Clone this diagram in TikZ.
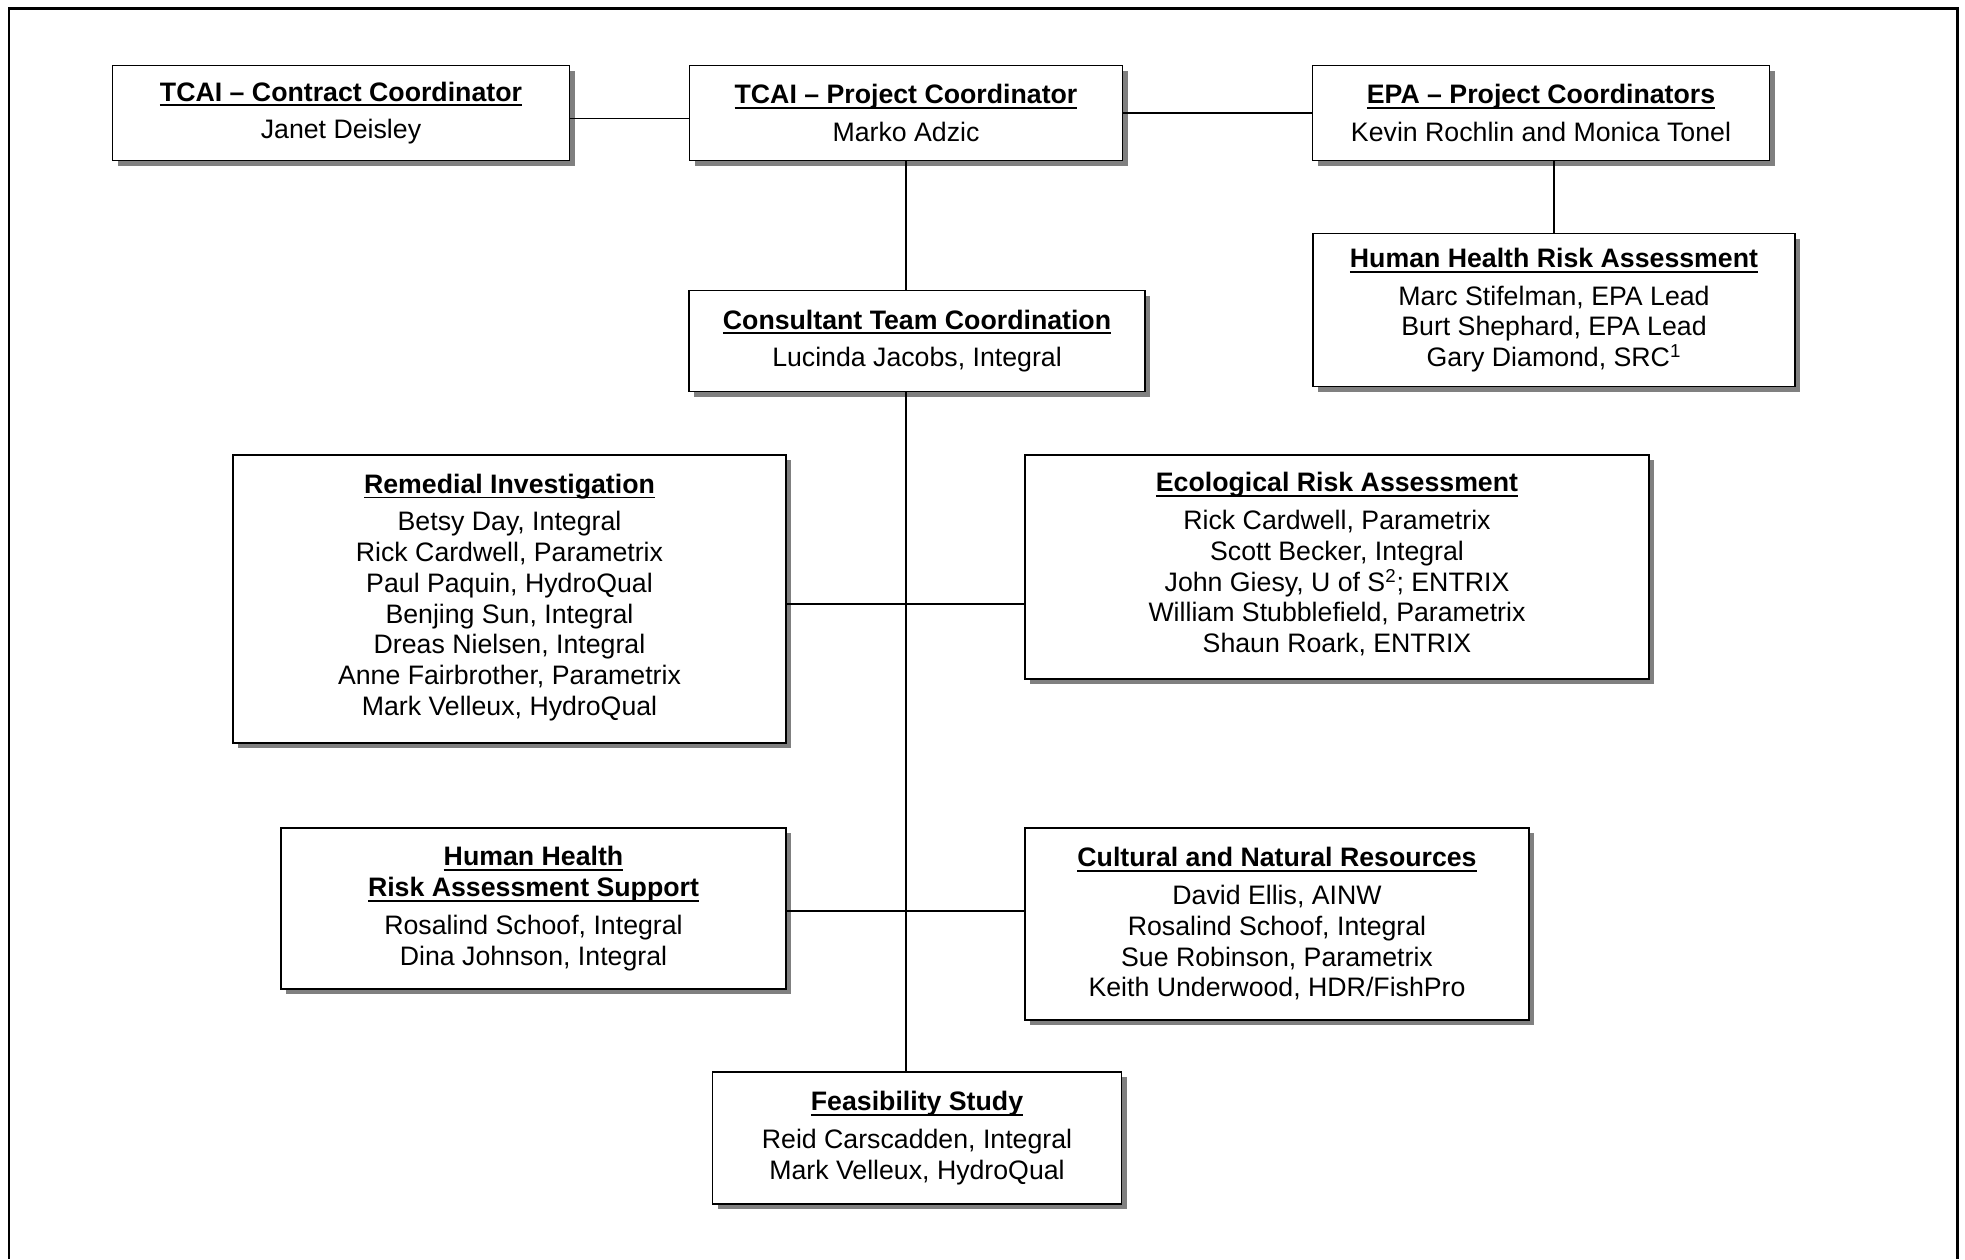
\documentclass[tikz,border=0pt]{standalone}
\usepackage{fontspec}
\setmainfont{Liberation Sans}
\usetikzlibrary{shadows}

% bold underlined text, and the title line of a box
\newcommand{\ulbold}[1]{\setbox0\hbox{\textbf{#1}}\rlap{\rule[-3pt]{\wd0}{1.1pt}}\box0}
\newcommand{\boxhead}[1]{\ulbold{#1}\\[4pt]}

\begin{document}
\begin{tikzpicture}[
    x=0.02cm, y=-0.02cm,
    font=\fontsize{15.2}{17.5}\selectfont,
    % Node styles
    unit/.style={draw, line width=1.1pt, fill=white, align=center, inner sep=0pt,
        drop shadow={shadow xshift=3pt, shadow yshift=-3pt, fill=black!50, opacity=1}},
    link/.style={line width=0.8pt},
    frame/.style={line width=1.7pt},
]
    \useasboundingbox (0,0) rectangle (1965,1259);
    \draw[frame] (9,1259) -- (9,8) -- (1957,8) -- (1957,1259);

    % top row
    \node[unit, minimum width=457*0.02cm, minimum height=95*0.02cm] (cc) at (341,113)
        {\boxhead{TCAI -- Contract Coordinator} Janet Deisley};
    \node[unit, minimum width=433*0.02cm, minimum height=95*0.02cm] (pc) at (906,113)
        {\boxhead{TCAI -- Project Coordinator} Marko Adzic};
    \node[unit, minimum width=457*0.02cm, minimum height=95*0.02cm] (epa) at (1541,113)
        {\boxhead{EPA -- Project Coordinators} Kevin Rochlin and Monica Tonel};
    \node[unit, minimum width=482*0.02cm, minimum height=153*0.02cm] (hhra) at (1554,310)
        {\boxhead{Human Health Risk Assessment} Marc Stifelman, EPA Lead\\
         Burt Shephard, EPA Lead\\ Gary Diamond, SRC\textsuperscript{1}};

    % consultant team
    \node[unit, minimum width=456*0.02cm, minimum height=101*0.02cm] (ctc) at (917,341)
        {\boxhead{Consultant Team Coordination} Lucinda Jacobs, Integral};
    \node[unit, minimum width=553*0.02cm, minimum height=288*0.02cm] (ri) at (509.5,599)
        {\boxhead{Remedial Investigation} Betsy Day, Integral\\
         Rick Cardwell, Parametrix\\ Paul Paquin, HydroQual\\
         Benjing Sun, Integral\\ Dreas Nielsen, Integral\\
         Anne Fairbrother, Parametrix\\ Mark Velleux, HydroQual\\[-12.5pt]};
    \node[unit, minimum width=624*0.02cm, minimum height=224*0.02cm] (era) at (1337,567)
        {\boxhead{Ecological Risk Assessment} Rick Cardwell, Parametrix\\
         Scott Becker, Integral\\ John Giesy, U of S\textsuperscript{2}; ENTRIX\\
         William Stubblefield, Parametrix\\ Shaun Roark, ENTRIX\\[-12.5pt]};
    \node[unit, minimum width=505*0.02cm, minimum height=161*0.02cm] (hhs) at (533.5,908.5)
        {\ulbold{Human Health}\\ \boxhead{Risk Assessment Support}
         Rosalind Schoof, Integral\\ Dina Johnson, Integral};
    \node[unit, minimum width=504*0.02cm, minimum height=192*0.02cm] (cnr) at (1277,924)
        {\boxhead{Cultural and Natural Resources} David Ellis, AINW\\
         Rosalind Schoof, Integral\\ Sue Robinson, Parametrix\\
         Keith Underwood, HDR/FishPro};
    \node[unit, minimum width=409*0.02cm, minimum height=132*0.02cm] (fs) at (917,1138)
        {\boxhead{Feasibility Study} Reid Carscadden, Integral\\ Mark Velleux, HydroQual};

    % Connections
    \draw[link] ([yshift=-3pt]cc.east) -- ([yshift=-3pt]cc.east -| pc.west);
    \draw[link] (pc) -- (epa);
    \draw[link] (hhra.north |- epa.south) -- (hhra.north);
    \draw[link] (pc.south) -- (pc.south |- ctc.north);
    \draw[link] (pc.south |- ctc.south) -- (pc.south |- fs.north);
    \draw[link] ([yshift=-2.8pt]ri.east) -- ([yshift=-2.8pt]ri.east -| era.west);
    \draw[link] ([yshift=-1.3pt]hhs.east) -- ([yshift=-1.3pt]hhs.east -| cnr.west);

\end{tikzpicture}
\end{document}
